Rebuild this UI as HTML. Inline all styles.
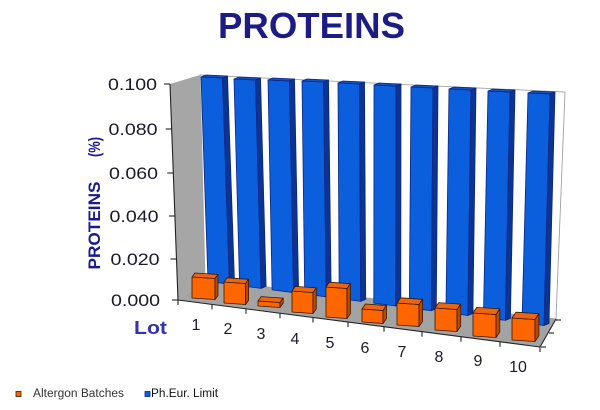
<!DOCTYPE html>
<html><head><meta charset="utf-8"><style>
html,body{margin:0;padding:0;background:#fff;}
svg{display:block;}
</style></head><body>
<svg width="600" height="410" viewBox="0 0 600 410" xmlns="http://www.w3.org/2000/svg" font-family="Liberation Sans, Arial, sans-serif">
<rect width="600" height="410" fill="#fff"/>
<!-- title -->
<text x="311.5" y="38" font-size="36" font-weight="bold" fill="#1c1c84" text-anchor="middle" textLength="187" lengthAdjust="spacingAndGlyphs">PROTEINS</text>

<!-- walls -->
<polygon points="200,75 565,92 556,319 205,280" fill="#fff" stroke="#a0a0a0" stroke-width="0.9"/>
<polygon points="170,84 200,75 205,280 178,300" fill="#a6a6a6"/>
<polygon points="178,300 205,280 556,319 540,347" fill="#a3a3a3"/>

<!-- blue bars -->
<g stroke="#0a2585" stroke-width="0.8" stroke-linejoin="round">
<polygon points="201,77 222.5,78 229.5,284.2 208,281.4" fill="#0b5fdc"/>
<polygon points="222.5,78 227.5,76 234.5,282.2 229.5,284.2" fill="#0b3590"/>
<polygon points="201,77 206,75 227.5,76 222.5,78" fill="#1550c0"/>

<polygon points="234,79 255.5,80 261.1,288.4 239.6,285.6" fill="#0b5fdc"/>
<polygon points="255.5,80 260.5,78 266.1,286.4 261.1,288.4" fill="#0b3590"/>
<polygon points="234,79 239,77 260.5,78 255.5,80" fill="#1550c0"/>

<polygon points="268,80 289.5,81 293.6,292.6 272.1,289.8" fill="#0b5fdc"/>
<polygon points="289.5,81 294.5,79 298.6,290.6 293.6,292.6" fill="#0b3590"/>
<polygon points="268,80 273,78 294.5,79 289.5,81" fill="#1550c0"/>

<polygon points="302,81 323.5,82 326.2,296.9 304.7,294.1" fill="#0b5fdc"/>
<polygon points="323.5,82 328.5,80 331.2,294.9 326.2,296.9" fill="#0b3590"/>
<polygon points="302,81 307,79 328.5,80 323.5,82" fill="#1550c0"/>

<polygon points="338,83 359.5,84 360.7,301.4 339.2,298.6" fill="#0b5fdc"/>
<polygon points="359.5,84 364.5,82 365.7,299.4 360.7,301.4" fill="#0b3590"/>
<polygon points="338,83 343,81 364.5,82 359.5,84" fill="#1550c0"/>

<polygon points="374,85 396,86 395.8,306 373.8,303.1" fill="#0b5fdc"/>
<polygon points="396,86 401,84 400.8,304 395.8,306" fill="#0b3590"/>
<polygon points="374,85 379,83 401,84 396,86" fill="#1550c0"/>

<polygon points="411,87 433,88 431.3,310.7 409.3,307.8" fill="#0b5fdc"/>
<polygon points="433,88 438,86 436.3,308.7 431.3,310.7" fill="#0b3590"/>
<polygon points="411,87 416,85 438,86 433,88" fill="#1550c0"/>

<polygon points="449,89 471,90 467.9,315.5 445.9,312.6" fill="#0b5fdc"/>
<polygon points="471,90 476,88 472.9,313.5 467.9,315.5" fill="#0b3590"/>
<polygon points="449,89 454,87 476,88 471,90" fill="#1550c0"/>

<polygon points="488,91 510,92 505.4,320.4 483.4,317.5" fill="#0b5fdc"/>
<polygon points="510,92 515,90 510.4,318.4 505.4,320.4" fill="#0b3590"/>
<polygon points="488,91 493,89 515,90 510,92" fill="#1550c0"/>

<polygon points="528,93 550,94 544,325.5 522,322.6" fill="#0b5fdc"/>
<polygon points="550,94 555,92 549,323.5 544,325.5" fill="#0b3590"/>
<polygon points="528,93 533,91 555,92 550,94" fill="#1550c0"/>
</g>

<!-- orange bars -->
<g stroke="#3a1800" stroke-width="0.8" stroke-linejoin="round">
<polygon points="192,277 215,278.5 215,299.5 192,298" fill="#ff6600"/>
<polygon points="192,277 195,273 218,274.5 215,278.5" fill="#ec6510"/>
<polygon points="215,278.5 218,274.5 218,295.5 215,299.5" fill="#b84a00"/>

<polygon points="224,282 245.5,283.5 245.5,304.5 224,303" fill="#ff6600"/>
<polygon points="224,282 227.1,277.8 248.6,279.3 245.5,283.5" fill="#ec6510"/>
<polygon points="245.5,283.5 248.6,279.3 248.6,300.3 245.5,304.5" fill="#b84a00"/>

<polygon points="258,301 280,302.5 280,307.5 258,306" fill="#ff6600"/>
<polygon points="258,301 261.2,296.6 283.2,298.1 280,302.5" fill="#ec6510"/>
<polygon points="280,302.5 283.2,298.1 283.2,303.1 280,307.5" fill="#b84a00"/>

<polygon points="292,291 313,292.5 313,313.5 292,312" fill="#ff6600"/>
<polygon points="292,291 295.3,286.4 316.3,287.9 313,292.5" fill="#ec6510"/>
<polygon points="313,292.5 316.3,287.9 316.3,308.9 313,313.5" fill="#b84a00"/>

<polygon points="326,287 347,288.5 347,318.5 326,317" fill="#ff6600"/>
<polygon points="326,287 329.4,282.2 350.4,283.7 347,288.5" fill="#ec6510"/>
<polygon points="347,288.5 350.4,283.7 350.4,313.7 347,318.5" fill="#b84a00"/>

<polygon points="362,309 383,310.5 383,323.5 362,322" fill="#ff6600"/>
<polygon points="362,309 365.5,304 386.5,305.5 383,310.5" fill="#ec6510"/>
<polygon points="383,310.5 386.5,305.5 386.5,318.5 383,323.5" fill="#b84a00"/>

<polygon points="397,303 419,304.5 419,326.5 397,325" fill="#ff6600"/>
<polygon points="397,303 400.6,297.8 422.6,299.3 419,304.5" fill="#ec6510"/>
<polygon points="419,304.5 422.6,299.3 422.6,321.3 419,326.5" fill="#b84a00"/>

<polygon points="435,308 457,309.5 457,331.5 435,330" fill="#ff6600"/>
<polygon points="435,308 438.7,302.6 460.7,304.1 457,309.5" fill="#ec6510"/>
<polygon points="457,309.5 460.7,304.1 460.7,326.1 457,331.5" fill="#b84a00"/>

<polygon points="473,313 496,314.5 496,337.5 473,336" fill="#ff6600"/>
<polygon points="473,313 476.8,307.4 499.8,308.9 496,314.5" fill="#ec6510"/>
<polygon points="496,314.5 499.8,308.9 499.8,331.9 496,337.5" fill="#b84a00"/>

<polygon points="512,318 535,319.5 535,341.5 512,340" fill="#ff6600"/>
<polygon points="512,318 515.9,312.2 538.9,313.7 535,319.5" fill="#ec6510"/>
<polygon points="535,319.5 538.9,313.7 538.9,335.7 535,341.5" fill="#b84a00"/>
</g>

<!-- axes -->
<g stroke="#222" stroke-width="1.1" fill="none">
<line x1="170" y1="84" x2="178" y2="300"/>
<line x1="178" y1="300" x2="540" y2="347"/>
<line x1="540" y1="347" x2="556" y2="319"/>
<!-- value ticks -->
<line x1="164" y1="84" x2="170" y2="84"/>
<line x1="165.7" y1="129" x2="171.7" y2="129"/>
<line x1="167.3" y1="173" x2="173.3" y2="173"/>
<line x1="168.9" y1="216" x2="174.9" y2="216"/>
<line x1="170.5" y1="259" x2="176.5" y2="259"/>
<line x1="172" y1="300" x2="178" y2="300"/>
<!-- category ticks -->
<line x1="178" y1="300" x2="178" y2="305"/>
<line x1="212" y1="304.4" x2="212" y2="309.4"/>
<line x1="246" y1="308.8" x2="246" y2="313.8"/>
<line x1="280" y1="313.2" x2="280" y2="318.2"/>
<line x1="313" y1="317.5" x2="313" y2="322.5"/>
<line x1="348" y1="322.1" x2="348" y2="327.1"/>
<line x1="384" y1="326.7" x2="384" y2="331.7"/>
<line x1="422" y1="331.7" x2="422" y2="336.7"/>
<line x1="461" y1="336.7" x2="461" y2="341.7"/>
<line x1="500" y1="341.8" x2="500" y2="346.8"/>
<line x1="540" y1="347" x2="540" y2="352"/>
<!-- depth ticks -->
<line x1="556" y1="320" x2="561" y2="320"/>
<line x1="549" y1="333" x2="554" y2="333"/>
<line x1="541" y1="347" x2="546" y2="347"/>
</g>

<!-- value labels -->
<g font-size="17" fill="#1a1a2a" text-anchor="end">
<text x="157" y="90" textLength="49" lengthAdjust="spacingAndGlyphs">0.100</text>
<text x="157.5" y="135" textLength="49" lengthAdjust="spacingAndGlyphs">0.080</text>
<text x="158" y="179" textLength="49" lengthAdjust="spacingAndGlyphs">0.060</text>
<text x="158.5" y="222" textLength="49" lengthAdjust="spacingAndGlyphs">0.040</text>
<text x="159.5" y="265" textLength="49" lengthAdjust="spacingAndGlyphs">0.020</text>
<text x="160" y="306" textLength="49" lengthAdjust="spacingAndGlyphs">0.000</text>
</g>

<!-- category labels -->
<g font-size="16" fill="#1a1a2a" text-anchor="middle">
<text x="196" y="330">1</text>
<text x="228" y="334">2</text>
<text x="261" y="339">3</text>
<text x="295" y="344">4</text>
<text x="330" y="348">5</text>
<text x="365" y="353">6</text>
<text x="402" y="357">7</text>
<text x="439" y="362">8</text>
<text x="478" y="366">9</text>
<text x="518" y="372">10</text>
</g>

<text x="134" y="334" font-size="18" font-weight="bold" fill="#3333b0" textLength="33" lengthAdjust="spacingAndGlyphs">Lot</text>

<!-- y title -->
<text transform="translate(100,225.5) rotate(-90)" font-size="17" font-weight="bold" fill="#1a1a8c" text-anchor="middle" textLength="88" lengthAdjust="spacingAndGlyphs">PROTEINS</text>
<text transform="translate(100,147) rotate(-90)" font-size="17" font-weight="bold" fill="#1a1a8c" text-anchor="middle" textLength="20" lengthAdjust="spacingAndGlyphs">(%)</text>

<!-- legend -->
<rect x="16" y="391.5" width="5" height="5" fill="#ff6600" stroke="#3a1800" stroke-width="0.8"/>
<text x="33" y="397" font-size="11.5" fill="#333" textLength="91" lengthAdjust="spacingAndGlyphs">Altergon Batches</text>
<rect x="145" y="391.5" width="5" height="5" fill="#0b5fdc" stroke="#0a2585" stroke-width="0.8"/>
<text x="151" y="397" font-size="11.5" fill="#111" textLength="67" lengthAdjust="spacingAndGlyphs">Ph.Eur. Limit</text>
</svg>
</body></html>
